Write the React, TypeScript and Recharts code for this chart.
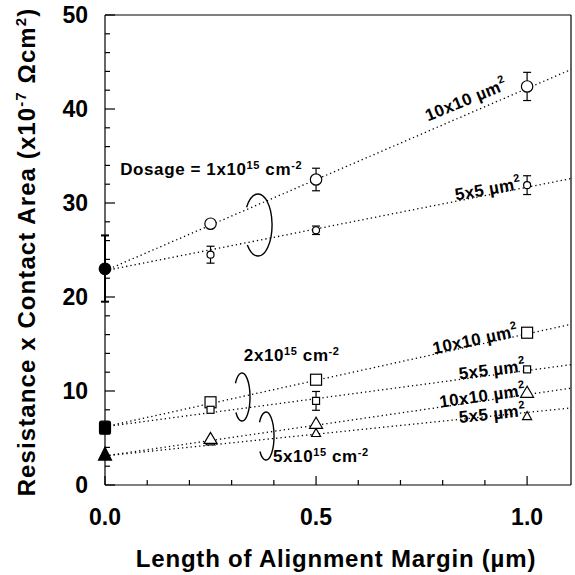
import React from "react";
import {
  ComposedChart,
  Line,
  Scatter,
  XAxis,
  YAxis,
  ErrorBar,
  ReferenceLine,
  ReferenceDot,
} from "recharts";

const FONT = "'Liberation Sans', Arial, Helvetica, sans-serif";

// x ticks (alignment margin, um) and y ticks
const xTicks = [0, 0.1, 0.2, 0.3, 0.4, 0.5, 0.6, 0.7, 0.8, 0.9, 1.0];
const yTicks = [0, 2, 4, 6, 8, 10, 12, 14, 16, 18, 20, 22, 24, 26, 28, 30, 32, 34, 36, 38, 40, 42, 44, 46, 48, 50];

// Dosage 1x10^15 cm^-2
const d1_10x10 = [
  { x: 0.25, y: 27.8, err: null },
  { x: 0.5, y: 32.5, err: 1.2 },
  { x: 1.0, y: 42.4, err: 1.5 },
];
const d1_5x5 = [
  { x: 0.25, y: 24.5, err: 0.9 },
  { x: 0.5, y: 27.1, err: 0.45 },
  { x: 1.0, y: 31.9, err: 1.0 },
];
const d1_zero = [{ x: 0, y: 23.0, err: [3.5, 3.55] }];

// Dosage 2x10^15 cm^-2
const d2_10x10 = [
  { x: 0.25, y: 8.8 },
  { x: 0.5, y: 11.2 },
  { x: 1.0, y: 16.2 },
];
const d2_5x5 = [
  { x: 0.25, y: 8.0, err: null },
  { x: 0.5, y: 8.95, err: 1.0 },
  { x: 1.0, y: 12.3, err: null },
];
const d2_zero = [{ x: 0, y: 6.1 }];

// Dosage 5x10^15 cm^-2
const d5_10x10 = [
  { x: 0.25, y: 4.9 },
  { x: 0.5, y: 6.5 },
  { x: 1.0, y: 9.8 },
];
const d5_5x5 = [
  { x: 0.25, y: 4.6 },
  { x: 0.5, y: 5.5 },
  { x: 1.0, y: 7.3 },
];
const d5_zero = [{ x: 0, y: 3.2 }];

// fitted (dotted) lines, endpoints
const fit1_10x10 = [{ x: 0, y: 22.8 }, { x: 1.104, y: 44.2 }];
const fit1_5x5 = [{ x: 0, y: 22.8 }, { x: 1.104, y: 32.6 }];
const fit2_10x10 = [{ x: 0, y: 6.2 }, { x: 1.104, y: 17.1 }];
const fit2_5x5 = [{ x: 0, y: 6.2 }, { x: 1.104, y: 12.8 }];
const fit5_10x10 = [{ x: 0, y: 3.1 }, { x: 1.104, y: 10.3 }];
const fit5_5x5 = [{ x: 0, y: 3.1 }, { x: 1.104, y: 8.2 }];

const MU = "\u00b5";
const OMEGA = "\u03a9";

// rotated size labels
const sizeLabels = [
  { x: 0.855, y: 41.0, angle: -22, text: "10x10 " + MU + "m", sup: "2" },
  { x: 0.907, y: 31.5, angle: -10, text: "5x5 " + MU + "m", sup: "2" },
  { x: 0.877, y: 15.5, angle: -12, text: "10x10 " + MU + "m", sup: "2" },
  { x: 0.917, y: 12.3, angle: -7, text: "5x5 " + MU + "m", sup: "2" },
  { x: 0.894, y: 9.5, angle: -8, text: "10x10 " + MU + "m", sup: "2" },
  { x: 0.917, y: 7.6, angle: -6, text: "5x5 " + MU + "m", sup: "2" },
];

// dosage labels (left anchored)
const doseLabels = [
  { x: 0.036, y: 33.0, pre: "Dosage = 1x10", exp: "15" },
  { x: 0.329, y: 13.2, pre: "2x10", exp: "15" },
  { x: 0.398, y: 2.4, pre: "5x10", exp: "15" },
];

// bracket arcs: center and pixel radii
const brackets = [
  { x: 0.3626, y: 27.66, rx: 14, ry: 31 },
  { x: 0.3246, y: 9.36, rx: 8, ry: 24 },
  { x: 0.3815, y: 5.21, rx: 8, ry: 24 },
];

const SW = 1.2;

const OpenCircle = (r: number) => (p: any) =>
  <circle cx={p.cx} cy={p.cy} r={r} fill="#fff" stroke="#000" strokeWidth={SW} />;
const FilledCircle = (r: number) => (p: any) =>
  <circle cx={p.cx} cy={p.cy} r={r} fill="#000" stroke="#000" strokeWidth={SW} />;
const OpenSquare = (s: number) => (p: any) =>
  <rect x={p.cx - s / 2} y={p.cy - s / 2} width={s} height={s} fill="#fff" stroke="#000" strokeWidth={SW} />;
const FilledSquare = (s: number) => (p: any) =>
  <rect x={p.cx - s / 2} y={p.cy - s / 2 - 1} width={s} height={s + 2} rx={2} fill="#000" stroke="#000" strokeWidth={SW} />;
const OpenTri = (w: number, h: number, fill = "#fff") => (p: any) =>
  <polygon
    points={`${p.cx},${p.cy - h * 0.6} ${p.cx - w / 2},${p.cy + h * 0.4} ${p.cx + w / 2},${p.cy + h * 0.4}`}
    fill={fill}
    stroke="#000"
    strokeWidth={SW}
    strokeLinejoin="miter"
  />;

const XTick = (props: any) => {
  const { x, y, payload } = props;
  const v = payload.value;
  const major = Math.abs(v * 2 - Math.round(v * 2)) < 1e-6;
  return (
    <g>
      <line x1={x} x2={x} y1={y} y2={y - (major ? 9 : 5)} stroke="#000" strokeWidth={SW} />
      {major && (
        <text x={x} y={y + 40} textAnchor="middle" fontFamily={FONT} fontWeight="bold" fontSize={23} fill="#000">
          {v.toFixed(1)}
        </text>
      )}
    </g>
  );
};

const YTick = (props: any) => {
  const { x, y, payload } = props;
  const v = payload.value;
  const major = v % 10 === 0;
  return (
    <g>
      <line x1={x} x2={x + (major ? 10 : 5)} y1={y} y2={y} stroke="#000" strokeWidth={SW} />
      {major && (
        <text x={x - 17} y={y + 8} textAnchor="end" fontFamily={FONT} fontWeight="bold" fontSize={23} fill="#000">
          {v}
        </text>
      )}
    </g>
  );
};

const XLabel = (props: any) => {
  const vb = props.viewBox;
  return (
    <text
      x={vb.x + vb.width / 2 - 2}
      y={vb.y + 82}
      textAnchor="middle"
      fontFamily={FONT}
      fontWeight="bold"
      fontSize={24}
      letterSpacing={0.8}
      fill="#000"
    >
      {"Length of Alignment Margin (" + MU + "m)"}
    </text>
  );
};

const YLabel = (props: any) => {
  const vb = props.viewBox;
  const cx = 35;
  const cy = vb.y + vb.height / 2 + 2;
  return (
    <text
      x={cx}
      y={cy}
      transform={`rotate(-90 ${cx} ${cy})`}
      textAnchor="middle"
      fontFamily={FONT}
      fontWeight="bold"
      fontSize={24}
      letterSpacing={1.1}
      fill="#000"
    >
      <tspan>Resistance x Contact Area (x10</tspan>
      <tspan fontSize={15} dy={-9}>-7</tspan>
      <tspan dy={9}>{" " + OMEGA + "cm"}</tspan>
      <tspan fontSize={15} dy={-9}>2</tspan>
      <tspan dy={9}>)</tspan>
    </text>
  );
};

const SizeLabelShape = (lab: any) => (p: any) =>
  (
    <text
      x={p.cx}
      y={p.cy}
      transform={`rotate(${lab.angle} ${p.cx} ${p.cy})`}
      textAnchor="middle"
      dominantBaseline="central"
      fontFamily={FONT}
      fontWeight="bold"
      fontSize={17}
      letterSpacing={0.4}
      fill="#000"
    >
      <tspan>{lab.text}</tspan>
      <tspan fontSize={11} dy={-6}>{lab.sup}</tspan>
    </text>
  );

const DoseLabelShape = (lab: any) => (p: any) =>
  (
    <text x={p.cx} y={p.cy} fontFamily={FONT} fontWeight="bold" fontSize={17} letterSpacing={0.6} fill="#000">
      <tspan>{lab.pre}</tspan>
      <tspan fontSize={11} dy={-6}>{lab.exp}</tspan>
      <tspan dy={6}> cm</tspan>
      <tspan fontSize={11} dy={-6}>-2</tspan>
    </text>
  );

const BracketShape = (b: any) => (p: any) => {
  const a0 = (215 * Math.PI) / 180;
  const a1 = (140 * Math.PI) / 180;
  const x0 = p.cx + b.rx * Math.cos(a0);
  const y0 = p.cy + b.ry * Math.sin(a0);
  const x1 = p.cx + b.rx * Math.cos(a1);
  const y1 = p.cy + b.ry * Math.sin(a1);
  return (
    <path
      d={`M ${x0} ${y0} A ${b.rx} ${b.ry} 0 1 1 ${x1} ${y1}`}
      fill="none"
      stroke="#000"
      strokeWidth={1.4}
    />
  );
};

const dotted = { stroke: "#000", strokeWidth: 1.3, strokeDasharray: "1.3 3", dot: false, activeDot: false, isAnimationActive: false, type: "linear" as const };

export default function App() {
  return (
    <div style={{ position: "absolute", left: 0, top: 0, width: 575, height: 575, background: "#fff" }}>
      <ComposedChart width={575} height={575} margin={{ top: 15, right: 4, bottom: 0, left: 0 }}>
        <XAxis
          type="number"
          dataKey="x"
          domain={[0, 1.104]}
          ticks={xTicks}
          height={90}
          tickSize={0}
          tickMargin={0}
          tickLine={false}
          axisLine={{ stroke: "#000", strokeWidth: SW }}
          tick={XTick}
          interval={0}
          label={{ content: XLabel }}
        />
        <YAxis
          type="number"
          dataKey="y"
          domain={[0, 50]}
          ticks={yTicks}
          width={105}
          tickSize={0}
          tickMargin={0}
          tickLine={false}
          axisLine={{ stroke: "#000", strokeWidth: SW }}
          tick={YTick}
          interval={0}
          label={{ content: YLabel }}
        />
        <ReferenceLine y={50} stroke="#000" strokeWidth={SW} />
        <ReferenceLine x={1.104} stroke="#000" strokeWidth={SW} />

        <Line data={fit1_10x10} dataKey="y" {...dotted} />
        <Line data={fit1_5x5} dataKey="y" {...dotted} />
        <Line data={fit2_10x10} dataKey="y" {...dotted} />
        <Line data={fit2_5x5} dataKey="y" {...dotted} />
        <Line data={fit5_10x10} dataKey="y" {...dotted} />
        <Line data={fit5_5x5} dataKey="y" {...dotted} />

        <Scatter data={d1_10x10} dataKey="y" shape={OpenCircle(5.7)} isAnimationActive={false}>
          <ErrorBar dataKey="err" direction="y" width={4} stroke="#000" strokeWidth={SW} />
        </Scatter>
        <Scatter data={d1_5x5} dataKey="y" shape={OpenCircle(3.5)} isAnimationActive={false}>
          <ErrorBar dataKey="err" direction="y" width={4} stroke="#000" strokeWidth={SW} />
        </Scatter>
        <Scatter data={d1_zero} dataKey="y" shape={FilledCircle(5.8)} isAnimationActive={false}>
          <ErrorBar dataKey="err" direction="y" width={4} stroke="#000" strokeWidth={2} />
        </Scatter>

        <Scatter data={d2_10x10} dataKey="y" shape={OpenSquare(11)} isAnimationActive={false} />
        <Scatter data={d2_5x5} dataKey="y" shape={OpenSquare(7)} isAnimationActive={false}>
          <ErrorBar dataKey="err" direction="y" width={4} stroke="#000" strokeWidth={SW} />
        </Scatter>
        <Scatter data={d2_zero} dataKey="y" shape={FilledSquare(11)} isAnimationActive={false} />

        <Scatter data={d5_5x5} dataKey="y" shape={OpenTri(9, 8)} isAnimationActive={false} />
        <Scatter data={d5_10x10} dataKey="y" shape={OpenTri(13, 11)} isAnimationActive={false} />
        <Scatter data={d5_zero} dataKey="y" shape={OpenTri(13, 13, "#000")} isAnimationActive={false} />

        {sizeLabels.map((lab, i) => (
          <ReferenceDot key={"s" + i} x={lab.x} y={lab.y} shape={SizeLabelShape(lab)} />
        ))}
        {doseLabels.map((lab, i) => (
          <ReferenceDot key={"d" + i} x={lab.x} y={lab.y} shape={DoseLabelShape(lab)} />
        ))}
        {brackets.map((b, i) => (
          <ReferenceDot key={"b" + i} x={b.x} y={b.y} shape={BracketShape(b)} />
        ))}
      </ComposedChart>
    </div>
  );
}
